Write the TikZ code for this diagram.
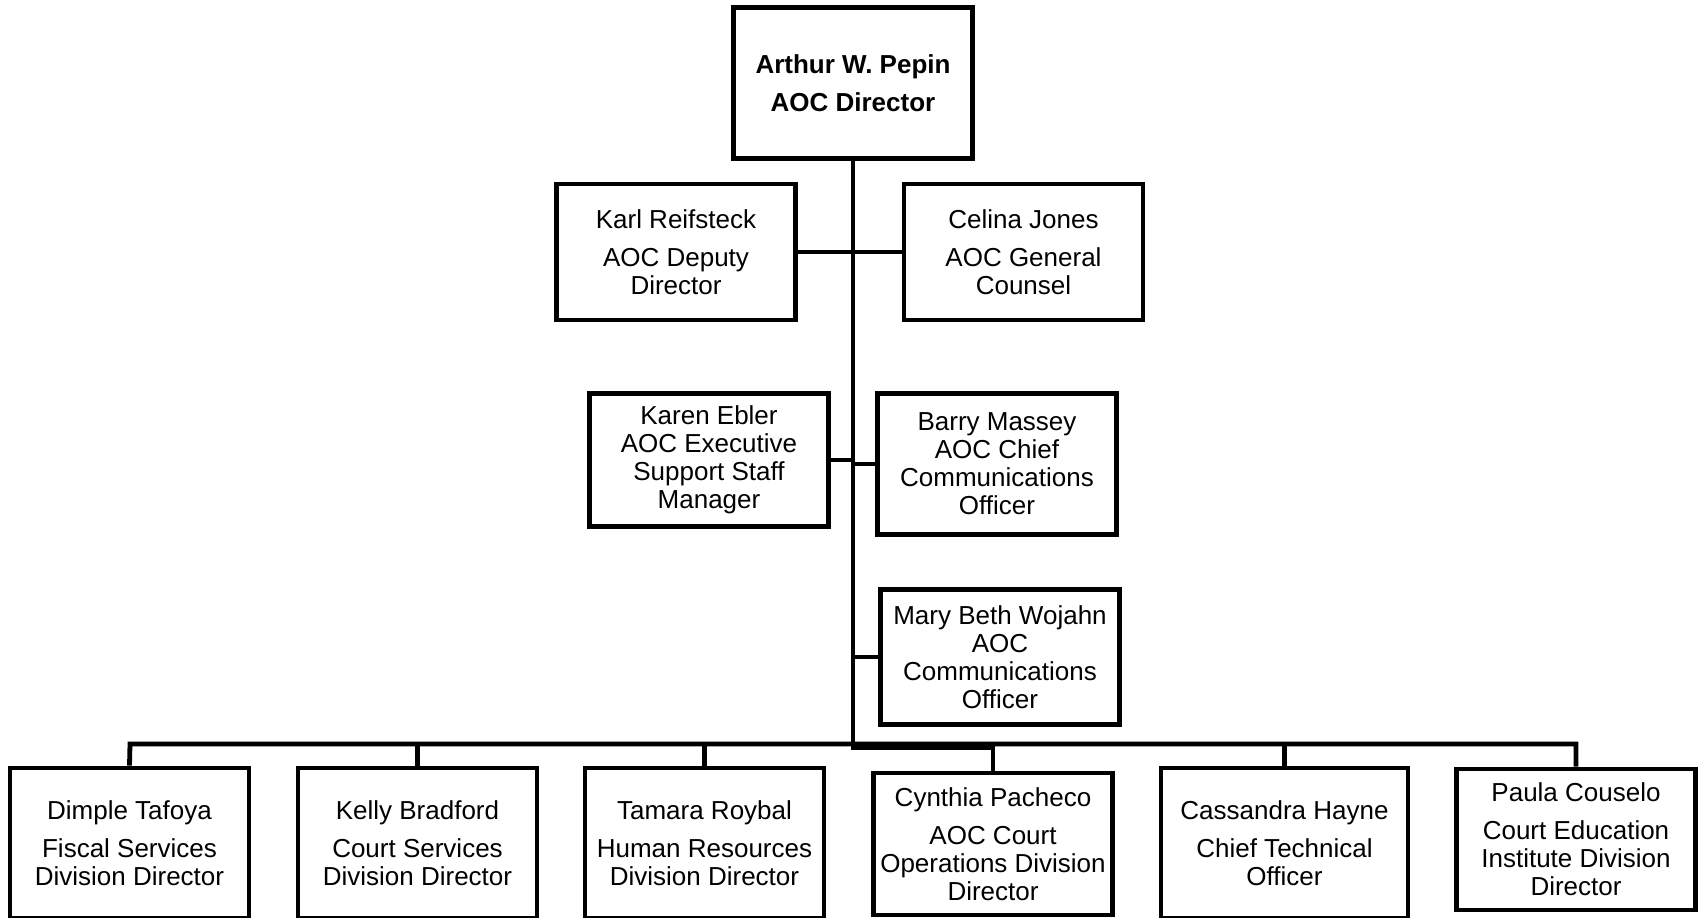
\documentclass[tikz,border=0pt]{standalone}
\usepackage{fontspec}
\setmainfont{Liberation Sans}
\usetikzlibrary{positioning}
\begin{document}
\begin{tikzpicture}[x=0.5pt,y=-0.5pt,
		staff/.style={draw, line width=2.4pt, minimum width=119.5pt, align=center, inner sep=1pt, font=\fontsize{13}{14}\selectfont},
		link/.style={line width=2.4pt}]
	\useasboundingbox (0,0) rectangle (1698,917);
	\clip (0,0) rectangle (1698,917);
	
	\node[staff, minimum height=75.5pt, font=\fontsize{13}{14}\selectfont\bfseries] (dir) at (853,83) {Arthur W. Pepin\\[5pt]AOC Director};
	
	\node[staff, minimum height=68pt] (karl) at (676,252) {Karl Reifsteck\\[5pt]AOC Deputy\\Director};
	\node[staff, minimum height=68pt] (celina) at (1023.5,252) {Celina Jones\\[5pt]AOC General\\Counsel};
	\node[staff, minimum height=66.5pt] (karen) at (709,460) {Karen Ebler\\AOC Executive\\Support Staff\\Manager};
	\node[staff, minimum height=70.5pt] (barry) at (997,464) {Barry Massey\\AOC Chief\\Communications\\Officer};
	\node[staff, minimum height=67.5pt] (mary) at (1000,657) {Mary Beth Wojahn\\AOC\\Communications\\Officer};
	
	\node[staff, minimum height=75pt] (dimple) at (129.5,843) {Dimple Tafoya\\[5pt]Fiscal Services\\Division Director};
	\node[staff, minimum height=75pt] (kelly) at (417.5,843) {Kelly Bradford\\[5pt]Court Services\\Division Director};
	\node[staff, minimum height=75pt] (tamara) at (704.5,843) {Tamara Roybal\\[5pt]Human Resources\\Division Director};
	\node[staff, minimum height=71pt] (cynthia) at (993,844) {Cynthia Pacheco\\[5pt]AOC Court\\Operations Division\\Director};
	\node[staff, minimum height=75pt, minimum width=123.5pt] (cassandra) at (1284.5,843) {Cassandra Hayne\\[5pt]Chief Technical\\Officer};
	\node[staff, minimum height=70.5pt] (paula) at (1576,839.5) {Paula Couselo\\[5pt]Court Education\\Institute Division\\Director};
	
	\coordinate (bus) at (130,744);
	\coordinate (junc) at (853,748);
	
	\draw[link] (dir.south) -- (junc) -| (cynthia.north);
	\draw[link] (karl.east) -- (celina.west);
	\draw[link] (karen.east) -- (karen.east -| dir.south);
	\draw[link] (barry.west) -- (barry.west -| dir.south);
	\draw[link] (mary.west) -- (mary.west -| dir.south);
	\draw[link] (dimple.north) -- (bus) -| (paula.north);
	\foreach \n in {kelly,tamara,cassandra}
		\draw[link] (\n.north) -- (\n.north |- bus);
\end{tikzpicture}
\end{document}
